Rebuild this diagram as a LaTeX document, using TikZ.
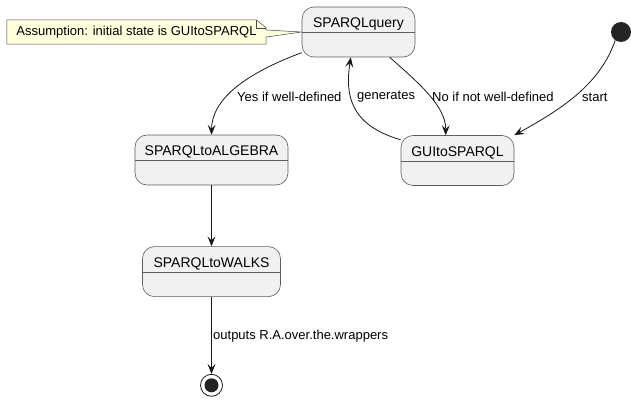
\documentclass[tikz,border=0pt]{standalone}
\usepackage{fontspec}
\setmainfont{Liberation Sans}
\usetikzlibrary{positioning, arrows.meta, calc, backgrounds}

\definecolor{stateFill}{HTML}{F1F1F1}
\definecolor{lineCol}{HTML}{181818}
\definecolor{noteFill}{HTML}{FEFFDD}

\begin{document}
\begin{tikzpicture}[
  x=1pt, y=-1pt,
  node distance=61pt,
  state/.style={draw=lineCol!70, fill=stateFill, rounded corners=12pt,
    line width=0.6pt, minimum height=50pt, inner ysep=0pt,
    text height=21pt, text depth=29pt, font=\fontsize{14}{16}\selectfont},
  lbl/.style={anchor=west, inner sep=0pt, font=\fontsize{13}{15}\selectfont},
  arrow/.style={-{Stealth[length=10pt, width=8pt, inset=4pt]}, lineCol,
    line width=0.8pt},
  startdot/.style={circle, fill=lineCol!95, minimum size=20pt, inner sep=0pt},
  enddot/.style={circle, draw=lineCol, line width=0.8pt, minimum size=22pt,
    inner sep=0pt, path picture={\fill[lineCol!95]
      (path picture bounding box.center) circle (7pt);}},
  notebox/.style={fill=noteFill, draw=lineCol!80, line width=0.5pt},
]
  \useasboundingbox (0,0) rectangle (635,401);

  % states
  \node[state, minimum width=113pt] (query) at (358.5,32) {SPARQLquery};
  \node[state, minimum width=113pt] (gui) at (457.5,160.5) {GUItoSPARQL};
  \node[state, minimum width=153pt] (algebra) at (211.5,160) {SPARQLtoALGEBRA};
  \node[state, minimum width=138pt, below=of algebra] (walks) {SPARQLtoWALKS};
  \node[enddot, below=77pt of walks] (final) {};
  \node[startdot] (init) at (621,32) {};

  \foreach \s in {query, gui, algebra, walks}
    \draw[draw=lineCol!70, line width=0.6pt]
      ([yshift=-26pt]\s.north west) -- ([yshift=-26pt]\s.north east);

  % note
  \node[inner sep=0pt, minimum width=259pt, minimum height=24pt,
    font=\fontsize{13}{15}\selectfont] (note) at (136.5,32)
    {Assumption: initial state is GUItoSPARQL};
  \begin{scope}[on background layer]
    \draw[notebox] (note.north west) -- ([xshift=-10pt]note.north east)
      -- ([yshift=-8pt]note.north east) -- ([yshift=2pt]note.east)
      -- (query.west) -- ([yshift=-5pt]note.east)
      -- (note.south east) -- (note.south west) -- cycle;
    \draw[notebox, fill=none] ([xshift=-10pt]note.north east)
      |- ([yshift=-8pt]note.north east);
  \end{scope}

  % transitions
  \draw[arrow] (query.200) .. controls (255,70) and (212,95) .. (algebra.north);
  \draw[arrow] (query.321) .. controls (415,80) and (446,105) .. (gui.115);
  \draw[arrow] (gui.160) .. controls (350,125) and (345,95) .. (query.253);
  \draw[arrow] (init.235) .. controls (600,85) and (560,110) .. (gui.north east);
  \draw[arrow] (algebra) -- (walks);
  \draw[arrow] (walks) -- (final);

  \node[lbl] (lyes) at (237,97) {Yes if well-defined};
  \node[lbl] (lgen) at (357,97) {generates};
  \node[lbl] (lno) at (432,97) {No if not well-defined};
  \node[lbl] (lstart) at (582,97) {start};
  \node[lbl] (lout) at (213,336) {outputs R.A.over.the.wrappers};
\end{tikzpicture}
\end{document}
